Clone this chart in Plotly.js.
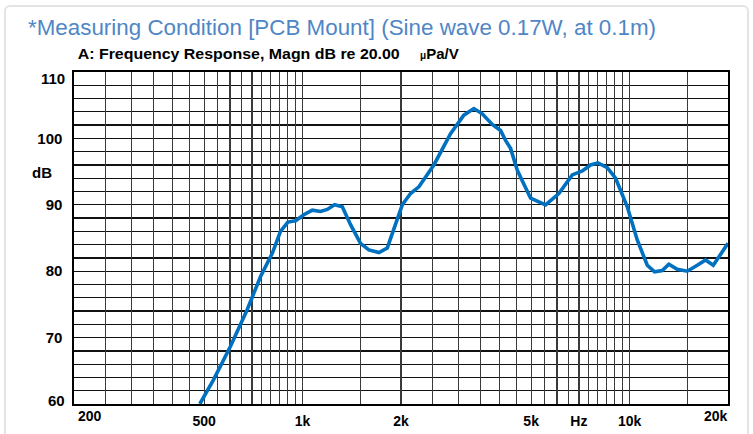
<!DOCTYPE html>
<html>
<head>
<meta charset="utf-8">
<script src="https://cdn.plot.ly/plotly-3.0.1.min.js"></script>
<style>
  html, body { margin: 0; padding: 0; background: #ffffff; }
  #frame { position: absolute; left: 4px; top: 5px; width: 745px; height: 440px;
           border: 2px solid #e4e4e4; border-radius: 6px; box-sizing: border-box; }
  #chart { position: absolute; left: 0; top: 0; width: 753px; height: 434px; }
</style>
</head>
<body>
<div id="frame"></div>
<div id="chart"></div>
<script>
// ---- data ----
const freqHz = [485, 535, 602, 677, 744, 808, 856, 902, 952, 1009, 1071, 1135, 1190, 1253, 1323,
                1402, 1504, 1595, 1712, 1816, 2018, 2139, 2268, 2521, 2835, 3113, 3341, 3544, 3803,
                4032, 4176, 4326, 4536, 4981, 5535, 6078, 6679, 7169, 7598, 8001, 8548, 9063, 9840,
                10556, 11327, 11925, 12589, 13189, 13990, 15016, 16107, 17077, 18030, 20000];
const levelDb = [60.0, 63.7, 68.7, 74.2, 79.2, 82.7, 86.0, 87.4, 87.6, 88.5, 89.2, 89.0, 89.3, 90.0, 89.7,
                 87.0, 84.2, 83.2, 82.8, 83.5, 90.0, 91.7, 92.7, 96.0, 100.7, 103.5, 104.5, 103.7, 102.1,
                 101.2, 99.7, 98.5, 95.2, 91.0, 90.0, 91.7, 94.5, 95.1, 96.0, 96.3, 95.6, 94.0, 89.7,
                 84.7, 80.9, 79.9, 80.1, 81.05, 80.3, 80.0, 80.9, 81.7, 80.9, 84.2];

const xLabelVals = [500, 1000, 2000, 5000, 7000, 10000];
const xLabelText = ['500', '1k', '2k', '5k', 'Hz', '10k'];
const xEdgeVals = [200, 20000];
const xEdgeText = ['200', '20k'];
const yLabelVals = [70, 80, 90, 100];
const yEdgeVals = [60, 110];

const titleText = '*Measuring Condition [PCB Mount] (Sine wave 0.17W, at 0.1m)';
const subTitleText = 'A: Frequency Response, Magn dB re 20.00';
const unitMu = '\u03BC';
const unitText = 'Pa/V';

// ---- grid: every half unit of each decade (chart-paper style) ----
const gridVals = [];
[100, 1000, 10000].forEach(function (d) {
  for (let m = 1; m <= 10.001; m += 0.5) {
    const v = Math.round(m * d);
    if (v >= 200 && v <= 20000 && gridVals.indexOf(v) < 0) gridVals.push(v);
  }
});
const gridText = gridVals.map(function (v) {
  const i = xLabelVals.indexOf(v);
  return i >= 0 ? xLabelText[i] : '';
});

const FAM = 'Liberation Sans, Arial, sans-serif';
const labelFont = { family: FAM, size: 14, color: '#000', weight: 'bold' };

const annotations = [];
xEdgeVals.forEach(function (v, i) {
  annotations.push({
    x: Math.log10(v), xref: 'x', y: -0.036, yref: 'paper',
    text: xEdgeText[i], showarrow: false,
    xanchor: i === 0 ? 'left' : 'right', yanchor: 'middle',
    xshift: 2,
    font: labelFont
  });
});
yEdgeVals.forEach(function (v, i) {
  annotations.push({
    x: 0, xref: 'paper', y: v, yref: 'y',
    text: String(v), showarrow: false,
    xanchor: 'right', yanchor: 'middle',
    xshift: -7, yshift: i === 0 ? 4 : -6,
    font: { family: FAM, size: 15, color: '#000', weight: 'bold' }
  });
});
annotations.push({
  x: -0.049, xref: 'paper', y: 94.9, yref: 'y', text: 'dB', showarrow: false,
  xanchor: 'center', yanchor: 'middle',
  font: { family: FAM, size: 15, color: '#000', weight: 'bold' }
});
annotations.push({
  x: 0.2508, xref: 'paper', y: 1.0572, yref: 'paper', text: subTitleText, showarrow: false,
  xanchor: 'center', yanchor: 'middle',
  font: { family: FAM, size: 15, color: '#000', weight: 'bold' }
});
annotations.push({
  x: 0.526, xref: 'paper', y: 1.0572, yref: 'paper',
  text: '<span style="font-size:10px;color:#000000">' + unitMu + '</span>' + unitText,
  showarrow: false,
  xanchor: 'left', yanchor: 'middle',
  font: { family: FAM, size: 15, color: '#000', weight: 'bold' }
});

const trace = {
  x: freqHz, y: levelDb, type: 'scatter', mode: 'lines',
  line: { color: '#0070c0', width: 3.6, shape: 'linear' },
  hoverinfo: 'x+y'
};

const layout = {
  width: 753, height: 434,
  margin: { l: 74, r: 25, t: 72, b: 30 },
  paper_bgcolor: 'rgba(0,0,0,0)',
  plot_bgcolor: '#ffffff',
  showlegend: false,
  title: {
    text: titleText, xref: 'container', yref: 'container',
    x: 342 / 753, xanchor: 'center', y: 1 - 27 / 434, yanchor: 'middle',
    font: { family: FAM, size: 22, color: '#4f86c6' }
  },
  xaxis: {
    type: 'log', range: [Math.log10(200), Math.log10(20000)],
    tickmode: 'array', tickvals: gridVals, ticktext: gridText,
    showgrid: true, gridcolor: '#3a3a3a', gridwidth: 1.2,
    ticks: '', ticklabelstandoff: 4,
    showline: true, mirror: true, linecolor: '#000', linewidth: 1.6,
    zeroline: false, tickfont: labelFont, tickangle: 0
  },
  yaxis: {
    range: [60, 110],
    tickmode: 'array', tickvals: yLabelVals, ticktext: yLabelVals.map(String),
    showgrid: false,
    ticks: '', ticklabelstandoff: 7,
    showline: true, mirror: true, linecolor: '#000', linewidth: 1.6,
    zeroline: false,
    tickfont: { family: FAM, size: 15, color: '#000', weight: 'bold' },
    minor: { dtick: 2, showgrid: true, gridcolor: '#111', gridwidth: 1.3 }
  },
  annotations: annotations
};

Plotly.newPlot('chart', [trace], layout, { staticPlot: true, displayModeBar: false }).then(function () {
  // fit text widths to the reference's condensed typeface
  const t = document.querySelector('#chart .gtitle');
  if (t) { t.setAttribute('textLength', 628); t.setAttribute('lengthAdjust', 'spacingAndGlyphs'); }
  document.querySelectorAll('#chart .annotation-text').forEach(function (el) {
    if (el.textContent === subTitleText) {
      el.setAttribute('textLength', 322); el.setAttribute('lengthAdjust', 'spacingAndGlyphs');
    }
  });
});
</script>
</body>
</html>
